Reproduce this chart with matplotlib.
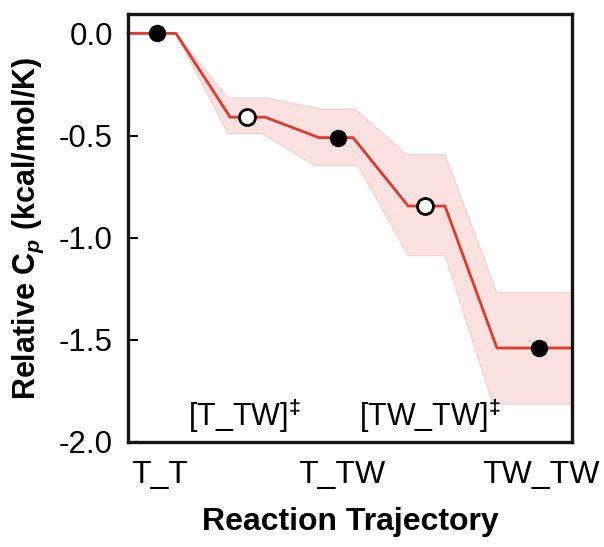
import matplotlib
matplotlib.use("Agg")
import matplotlib.pyplot as plt
import numpy as np

plt.rcParams['font.family'] = ['Liberation Sans', 'DejaVu Sans']
plt.rcParams['mathtext.fontset'] = 'custom'
plt.rcParams['mathtext.rm'] = 'Liberation Sans:bold'
plt.rcParams['mathtext.it'] = 'Liberation Sans:italic:bold'
plt.rcParams['mathtext.bf'] = 'Liberation Sans:bold'

# Mean trajectory (breakpoints)
line_x = [0.0, 1.08, 2.30, 3.09, 4.30, 5.07, 6.31, 7.14, 8.31, 10.0]
line_y = [0.0, 0.0, -0.41, -0.41, -0.51, -0.51, -0.845, -0.845, -1.54, -1.54]

# Uncertainty band
upper_x = [0.0, 1.08, 2.25, 3.13, 4.32, 5.11, 6.28, 7.14, 8.31, 10.0]
upper_y = [0.0, 0.0, -0.316, -0.316, -0.37, -0.37, -0.594, -0.594, -1.268, -1.268]
lower_x = [0.0, 1.08, 2.25, 3.02, 4.21, 5.18, 6.31, 7.14, 8.22, 10.0]
lower_y = [0.0, 0.0, -0.49, -0.49, -0.648, -0.648, -1.087, -1.087, -1.815, -1.815]

# States (filled) and transition states (open)
state_x = [0.65, 4.73, 9.26]
state_y = [0.0, -0.51, -1.54]
ts_x = [2.68, 6.69]
ts_y = [-0.41, -0.845]

state_labels = ['T_T', 'T_TW', 'TW_TW']
state_label_x = [0.72, 4.82, 9.3]
ts_labels = ['[T_TW]$^{\u2021}$', '[TW_TW]$^{\u2021}$']
ts_label_x = [2.63, 6.8]

fig = plt.figure(figsize=(6.04, 5.47), dpi=100)
ax = fig.add_axes([0.212, 0.192, 0.735, 0.782])

poly_x = np.concatenate([upper_x, lower_x[::-1]])
poly_y = np.concatenate([upper_y, lower_y[::-1]])
ax.fill(poly_x, poly_y, facecolor='#fce1e1', edgecolor='#f6d0d0', lw=0.8, zorder=1)
ax.plot(line_x, line_y, color='#e03a2c', lw=2.0, zorder=2, clip_on=False)
ax.plot(state_x, state_y, 'o', ms=11.5, mfc='black', mec='black', zorder=3)
ax.plot(ts_x, ts_y, 'o', ms=11.5, mfc='white', mec='black', mew=2.0, zorder=3)

ax.set_xlim(0, 10)
ax.set_ylim(-2.0, 0.094)
ax.set_yticks([0.0, -0.5, -1.0, -1.5, -2.0])
ax.set_yticklabels(['0.0', '-0.5', '-1.0', '-1.5', '-2.0'])
ax.set_xticks(state_label_x)
ax.set_xticklabels(state_labels)
ax.tick_params(axis='y', direction='in', length=7, width=1.5, labelsize=22.5, pad=11)
ax.tick_params(axis='x', length=0, labelsize=23, pad=13)

for lx, lt in zip(ts_label_x, ts_labels):
    ax.text(lx, -1.87, lt, ha='center', va='center', fontsize=22)

for s in ax.spines.values():
    s.set_linewidth(2.4)
    s.set_color('#151515')

ax.set_xlabel('Reaction Trajectory', fontsize=23, fontweight='bold', labelpad=12)
ax.set_ylabel('Relative C$_{\\mathit{p}}$ (kcal/mol/K)', fontsize=22, fontweight='bold', labelpad=9)

fig.savefig('out.png', dpi=100)
